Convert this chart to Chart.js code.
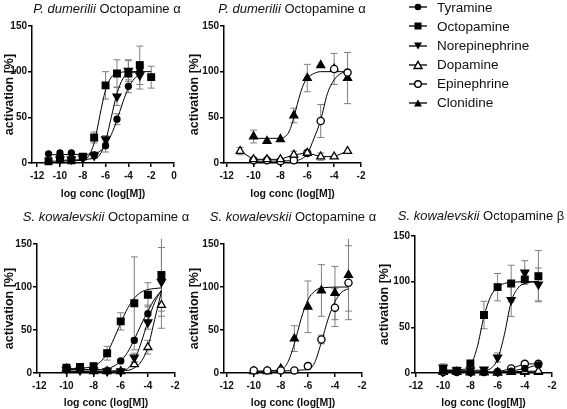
<!DOCTYPE html>
<html>
<head>
<meta charset="utf-8">
<script src="https://cdn.jsdelivr.net/npm/chart.js@4.4.1/dist/chart.umd.min.js"></script>
<style>
  body { margin: 0; background: #fff; font-family: "Liberation Sans", Arial, sans-serif; }
  #fig { position: relative; width: 567px; height: 409px; overflow: hidden; }
  .pane { position: absolute; }
  .ttl { position: absolute; transform: translate(-50%, -50%); white-space: nowrap; font-size: 13px; color: #111; }
  .leg { position: absolute; left: 409px; top: 0; font-size: 13.5px; color: #111; }
  .leg div { position: absolute; left: 0; height: 19px; white-space: nowrap; display: flex; align-items: center; }
  .leg svg { margin-right: 9px; }
</style>
</head>
<body>
<div id="fig">
  <canvas class="pane" id="g1" width="185" height="200" style="left:0;top:0"></canvas>
  <canvas class="pane" id="g2" width="185" height="200" style="left:185px;top:0"></canvas>
  <canvas class="pane" id="g4" width="185" height="209" style="left:0;top:200px"></canvas>
  <canvas class="pane" id="g5" width="185" height="209" style="left:185px;top:200px"></canvas>
  <canvas class="pane" id="g6" width="192" height="209" style="left:375px;top:200px"></canvas>

  <div class="ttl" style="left:107px;top:8px"><i>P. dumerilii</i> Octopamine α</div>
  <div class="ttl" style="left:292px;top:8px"><i>P. dumerilii</i> Octopamine α</div>
  <div class="ttl" style="left:106px;top:216px"><i>S. kowalevskii</i> Octopamine α</div>
  <div class="ttl" style="left:293px;top:216px"><i>S. kowalevskii</i> Octopamine α</div>
  <div class="ttl" style="left:481px;top:215px"><i>S. kowalevskii</i> Octopamine β</div>

  <div class="leg" id="legenda"></div>
</div>

<script>
// ---- eixos ----
const yTicks = [0, 50, 100, 150];
const xTicks1 = [-12, -10, -8, -6, -4, -2, 0];
const xTicks2 = [-12, -10, -8, -6, -4, -2];

const compostos = ['Tyramine', 'Octopamine', 'Norepinephrine', 'Dopamine', 'Epinephrine', 'Clonidine'];

const c11a2 = [-11, -10, -9, -8, -7, -6, -5, -4, -3, -2];
const c11a3 = [-11, -10, -9, -8, -7, -6, -5, -4, -3];
const c10a3 = [-10, -9, -8, -7, -6, -5, -4, -3];

// ---- P. dumerilii Octopamine α (esquerda) ----
const g1TyrX = [-11, -10, -9, -7, -6, -5, -4, -3];
const g1TyrY = [10, 11, 11, 9, 19, 48, 84, 100];
const g1TyrE = [0, 0, 0, 3, 7, 6, 7, 0];
const g1OctY = [2, 4, 3, 7, 28, 85, 98, 98, 107, 94];
const g1OctE = [0, 0, 0, 0, 6, 15, 15, 14, 21, 12];
const g1NorY = [4, 4, 5, 8, 26, 73, 101, 96];
const g1NorE = [0, 0, 0, 3, 4, 10, 12, 15];
const g1TyrFit = [[-11, 9], [-8, 9.5], [-7, 10], [-6.5, 13], [-6, 19], [-5.5, 31], [-5, 47], [-4.5, 66], [-4, 82], [-3.5, 92], [-3, 97]];
const g1OctFit = [[-11, 2], [-8, 3], [-7.5, 7], [-7, 22], [-6.75, 36], [-6.5, 52], [-6.25, 67], [-6, 80], [-5.5, 94], [-5, 98], [-4, 100], [-2, 100]];
const g1NorFit = [[-10, 3], [-7, 5], [-6.5, 9], [-6, 24], [-5.5, 50], [-5, 76], [-4.5, 92], [-4, 98], [-3, 100]];

// ---- P. dumerilii Octopamine α (direita) ----
const g2CloY = [29, 24, 26, 52, 93, 107, 103, 93];
const g2CloE = [7, 0, 0, 8, 15, 0, 0, 28];
const g2EpiY = [3, 3, 2, 3, 11, 46, 103, 99];
const g2EpiE = [0, 0, 0, 0, 0, 18, 17, 0];
const g2DopY = [13, 4, 4, 4, 9, 11, 7, 7, 13];
const g2DopE = [4, 0, 0, 0, 4, 3, 4, 0, 0];
const g2CloFit = [[-10, 27], [-8, 27], [-7.5, 31], [-7.25, 38], [-7, 50], [-6.75, 64], [-6.5, 77], [-6.25, 87], [-6, 93], [-5.5, 98], [-5, 100], [-3, 100]];
const g2EpiFit = [[-10, 2], [-7, 2.5], [-6.5, 4], [-6, 10], [-5.5, 27], [-5, 47], [-4.5, 76], [-4, 91], [-3.5, 98], [-3, 100]];

// ---- S. kowalevskii Octopamine α (esquerda) ----
const g4OctY = [6, 7, 8, 23, 60, 81, 91, 114];
const g4OctE = [3, 2, 2, 8, 10, 54, 14, 42];
const g4TyrY = [5, 4, 4, 3, 14, 38, 69, 110];
const g4TyrE = [0, 0, 0, 0, 2, 3, 10, 0];
const g4NorY = [4, 3, 3, 2, 2, 18, 59, 106];
const g4NorE = [0, 0, 0, 0, 0, 5, 8, 40];
const g4DopY = [5, 4, 2, 2, 2, 10, 30, 79];
const g4DopE = [0, 0, 0, 0, 0, 2, 8, 27];
const g4OctFit = [[-10, 5], [-9, 5.5], [-8, 8], [-7.5, 13], [-7, 23], [-6.5, 40], [-6, 58], [-5.5, 75], [-5, 87], [-4.5, 94], [-4, 97], [-3, 99]];
const g4TyrFit = [[-10, 4], [-8, 4], [-7, 5], [-6.5, 8], [-6, 14], [-5.5, 24], [-5, 39], [-4.5, 56], [-4, 72], [-3.5, 86], [-3, 96]];
const g4NorFit = [[-10, 2], [-6, 2], [-5.5, 5], [-5, 15], [-4.5, 35], [-4, 60], [-3.5, 82], [-3, 96]];
const g4DopFit = [[-10, 2], [-5.5, 3], [-5, 6], [-4.5, 13], [-4, 30], [-3.5, 62], [-3, 95]];

// ---- S. kowalevskii Octopamine α (meio) ----
const g5CloY = [2, 2, 5, 40, 77, 96, 93, 114];
const g5CloE = [0, 0, 0, 15, 30, 30, 31, 42];
const g5EpiY = [3, 3, 3, 3, 8, 39, 76, 105];
const g5EpiE = [0, 0, 0, 0, 0, 5, 22, 43];
const g5CloFit = [[-10, 2], [-8, 4], [-7.5, 12], [-7, 34], [-6.5, 63], [-6, 85], [-5.5, 95], [-5, 99], [-3, 100]];
const g5EpiFit = [[-10, 2], [-6, 4], [-5.5, 12], [-5, 36], [-4.5, 63], [-4, 83], [-3.5, 94], [-3, 98]];

// ---- S. kowalevskii Octopamine β ----
const g6OctY = [4, 2.5, 10.5, 63.5, 94, 98, 102.5, 106];
const g6OctE = [0, 0, 3, 15, 15, 20, 3, 28];
const g6NorY = [6, 3, 3, 4, 17, 80, 110, 97];
const g6NorE = [4, 0, 0, 0, 5, 18, 13, 18];
const g6TyrY = [2, 2, 1, 1, 1, 2, 5, 9];
const g6TyrE = [0, 0, 0, 0, 0, 0, 0, 3];
const g6EpiY = [1, 1, 1, 1, 1, 5, 10, 10];
const g6EpiE = [0, 0, 0, 0, 0, 0, 2, 0];
const g6DopY = [2, 1, 1, 1, 0.5, 1, 2, 2];
const g6CloY = [1, 1, 0.5, 0.5, 0.5, 1, 1, 1];
const g6OctFit = [[-10, 3], [-8.5, 4], [-8, 8], [-7.5, 28], [-7, 62], [-6.5, 84], [-6, 94], [-5.5, 98], [-5, 99.5], [-3, 100]];
const g6NorFit = [[-10, 3], [-7, 3], [-6.5, 5], [-6, 15], [-5.5, 42], [-5, 78], [-4.5, 93], [-4, 98], [-3, 100]];

// estilo dos marcadores
const marcas = {
    tyr: {pointStyle: 'circle', pointRadius: 3, fill: '#000', rot: 0},
    oct: {pointStyle: 'rect', pointRadius: 4.7, fill: '#000', rot: 0},
    nor: {pointStyle: 'triangle', pointRadius: 4.6, fill: '#000', rot: 180},
    dop: {pointStyle: 'triangle', pointRadius: 4.6, fill: '#fff', rot: 0},
    epi: {pointStyle: 'circle', pointRadius: 3.6, fill: '#fff', rot: 0},
    clo: {pointStyle: 'triangle', pointRadius: 4.6, fill: '#000', rot: 0}
};

const fonte = "'Liberation Sans', Arial, sans-serif";

function pontos(xs, ys) {
    return xs.map((x, i) => ({x: x, y: ys[i]}));
}

function barras(xs, ys, es) {
    let out = [];
    xs.forEach((x, i) => {
        if (!es || !es[i]) return;
        out.push({x: x, y: ys[i] - es[i]}, {x: x, y: ys[i] + es[i]}, {x: x, y: null});
    });
    return out;
}

function montaDatasets(series) {
    let ds = [];
    series.forEach(s => {
        let m = marcas[s.m];
        ds.push({
            data: pontos(s.x, s.y),
            showLine: !!s.linha,
            borderColor: '#000',
            borderWidth: 1,
            pointStyle: m.pointStyle,
            pointRadius: m.pointRadius,
            pointRotation: m.rot,
            pointBackgroundColor: m.fill,
            pointBorderColor: '#000',
            pointBorderWidth: 1.3,
            clip: false,
            order: 1
        });
        if (s.e) {
            ds.push({
                data: barras(s.x, s.y, s.e),
                showLine: true,
                spanGaps: false,
                borderColor: '#808080',
                borderWidth: 1,
                pointStyle: 'line',
                pointRadius: 3.5,
                pointBorderColor: '#808080',
                pointBorderWidth: 1,
                clip: false,
                order: 3
            });
        }
        if (s.fit) {
            ds.push({
                data: s.fit.map(p => ({x: p[0], y: p[1]})),
                showLine: true,
                borderColor: '#000',
                borderWidth: 1,
                pointRadius: 0,
                cubicInterpolationMode: 'monotone',
                clip: false,
                order: 2
            });
        }
    });
    return ds;
}

function criaGrafico(id, cx, series) {
    return new Chart(document.getElementById(id), {
        type: 'scatter',
        data: {datasets: montaDatasets(series)},
        options: {
            responsive: false,
            animation: false,
            events: [],
            layout: {padding: {top: cx.top, right: cx.right, left: 0, bottom: 0}},
            plugins: {legend: {display: false}, tooltip: {enabled: false}},
            scales: {
                x: {
                    type: 'linear',
                    min: cx.xMin,
                    max: cx.xMax,
                    afterBuildTicks: s => { s.ticks = cx.xTicks.map(v => ({value: v})); },
                    afterFit: s => { s.height = cx.xH; s.paddingLeft = 0; s.paddingRight = 0; },
                    border: {color: '#000', width: 1.5},
                    grid: {drawOnChartArea: false, color: '#000', lineWidth: 1.5, tickLength: 4},
                    ticks: {color: '#111', padding: 3, maxRotation: 0, autoSkip: false,
                        font: {family: fonte, size: 10, weight: 'bold'}},
                    title: {display: true, text: 'log conc (log[M])', color: '#111', padding: 0,
                        font: {family: fonte, size: 10.5, weight: 'bold'}}
                },
                y: {
                    min: 0,
                    max: 150,
                    afterBuildTicks: s => { s.ticks = yTicks.map(v => ({value: v})); },
                    afterFit: s => { s.width = cx.yW; s.paddingTop = 0; s.paddingBottom = 0; },
                    border: {color: '#000', width: 1.5},
                    grid: {drawOnChartArea: false, color: '#000', lineWidth: 1.5, tickLength: 4},
                    ticks: {color: '#111', padding: 1, font: {family: fonte, size: 10, weight: 'bold'}},
                    title: {display: true, text: 'activation [%]', color: '#111', padding: {top: 2, bottom: 0},
                        font: {family: fonte, size: 12.5, weight: 'bold'}}
                }
            }
        }
    });
}

criaGrafico('g1', {xMin: -12.45, xMax: 0, xTicks: xTicks1, yW: 32, xH: 37, top: 26, right: 11}, [
    {m: 'tyr', x: g1TyrX, y: g1TyrY, e: g1TyrE, fit: g1TyrFit},
    {m: 'oct', x: c11a2, y: g1OctY, e: g1OctE, fit: g1OctFit},
    {m: 'nor', x: c10a3, y: g1NorY, e: g1NorE, fit: g1NorFit}
]);

criaGrafico('g2', {xMin: -12.2, xMax: -2, xTicks: xTicks2, yW: 39, xH: 37, top: 26, right: 9}, [
    {m: 'dop', x: c11a3, y: g2DopY, e: g2DopE, linha: true},
    {m: 'epi', x: c10a3, y: g2EpiY, e: g2EpiE, fit: g2EpiFit},
    {m: 'clo', x: c10a3, y: g2CloY, e: g2CloE, fit: g2CloFit}
]);

criaGrafico('g4', {xMin: -12.17, xMax: -2, xTicks: xTicks2, yW: 37, xH: 36, top: 44, right: 10}, [
    {m: 'tyr', x: c10a3, y: g4TyrY, e: g4TyrE, fit: g4TyrFit},
    {m: 'oct', x: c10a3, y: g4OctY, e: g4OctE, fit: g4OctFit},
    {m: 'nor', x: c10a3, y: g4NorY, e: g4NorE, fit: g4NorFit},
    {m: 'dop', x: c10a3, y: g4DopY, e: g4DopE, fit: g4DopFit}
]);

criaGrafico('g5', {xMin: -12.2, xMax: -2, xTicks: xTicks2, yW: 39, xH: 36, top: 44, right: 8}, [
    {m: 'epi', x: c10a3, y: g5EpiY, e: g5EpiE, fit: g5EpiFit},
    {m: 'clo', x: c10a3, y: g5CloY, e: g5CloE, fit: g5CloFit}
]);

criaGrafico('g6', {xMin: -12.07, xMax: -2, xTicks: xTicks2, yW: 40, xH: 36, top: 36, right: 15}, [
    {m: 'oct', x: c10a3, y: g6OctY, e: g6OctE, fit: g6OctFit},
    {m: 'nor', x: c10a3, y: g6NorY, e: g6NorE, fit: g6NorFit},
    {m: 'tyr', x: c10a3, y: g6TyrY, e: g6TyrE, linha: true},
    {m: 'epi', x: c10a3, y: g6EpiY, e: g6EpiE, linha: true},
    {m: 'dop', x: c10a3, y: g6DopY, linha: true},
    {m: 'clo', x: c10a3, y: g6CloY, linha: true}
]);

// legenda (simbolo = linha + marcador)
const simbolos = {
    Tyramine: '<circle cx="9" cy="6" r="3.3" fill="#000"/>',
    Octopamine: '<rect x="5.5" y="2.5" width="7" height="7" fill="#000"/>',
    Norepinephrine: '<polygon points="5,2.5 13,2.5 9,9.5" fill="#000"/>',
    Dopamine: '<polygon points="5,9.5 13,9.5 9,2.5" fill="#fff" stroke="#000" stroke-width="1.4"/>',
    Epinephrine: '<circle cx="9" cy="6" r="3.3" fill="#fff" stroke="#000" stroke-width="1.4"/>',
    Clonidine: '<polygon points="5,9.5 13,9.5 9,2.5" fill="#000"/>'
};
const legenda = document.getElementById('legenda');
compostos.forEach((nome, i) => {
    let linha = document.createElement('div');
    linha.style.top = (i * 19.1 - 2.2) + 'px';
    linha.innerHTML = '<svg width="19" height="12"><line x1="0" y1="6" x2="18" y2="6" stroke="#000" stroke-width="1.3"/>' +
        simbolos[nome] + '</svg>' + nome;
    legenda.appendChild(linha);
});
</script>
</body>
</html>
